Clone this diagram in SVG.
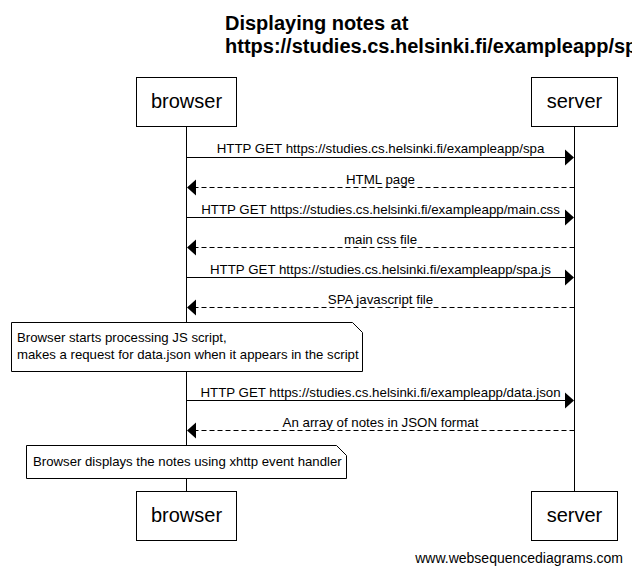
<svg xmlns="http://www.w3.org/2000/svg" width="632" height="574" viewBox="0 0 632 574">
<style>
text{font-family:"Liberation Sans",Arial,sans-serif;fill:#000}
.title{font-size:20px;font-weight:bold}
.actor{font-size:20px;text-anchor:middle}
.msg{font-size:13.3px;text-anchor:middle}
.note{font-size:13.2px}
.foot{font-size:14px;text-anchor:end}
.box{fill:#fff;stroke:#000;stroke-width:1}
.life{stroke:#000;stroke-width:1;fill:none}
.line{stroke:#000;stroke-width:1;fill:none}
.dash{stroke:#000;stroke-width:1;fill:none;stroke-dasharray:5,3}
.head{fill:#000;stroke:none}
</style>
<rect width="632" height="574" fill="#fff"/>
<g id="title">
<text class="title" x="225" y="30">Displaying notes at</text>
<text class="title" x="225" y="53">https://studies.cs.helsinki.fi/exampleapp/spa</text>
</g>
<g id="lifelines">
<line class="life" x1="186.5" y1="126" x2="186.5" y2="491"/>
<line class="life" x1="574.5" y1="126" x2="574.5" y2="491"/>
</g>
<g id="browser">
<rect class="box" x="136.5" y="77.5" width="100" height="49"/>
<text class="actor" x="186.5" y="108">browser</text>
</g>
<g id="server">
<rect class="box" x="531.5" y="77.5" width="86" height="49"/>
<text class="actor" x="574.5" y="108">server</text>
</g>
<g id="browser-bottom">
<rect class="box" x="136.5" y="491.5" width="100" height="49"/>
<text class="actor" x="186.5" y="522">browser</text>
</g>
<g id="server-bottom">
<rect class="box" x="531.5" y="491.5" width="86" height="49"/>
<text class="actor" x="574.5" y="522">server</text>
</g>
<g id="connectors">
<line class="line" x1="186.5" y1="157.5" x2="566" y2="157.5"/>
<polygon class="head" points="574,157.5 565,149.5 565,165.5"/>
<text class="msg" x="380.5" y="153">HTTP GET https://studies.cs.helsinki.fi/exampleapp/spa</text>

<line class="dash" x1="574.5" y1="187.5" x2="195" y2="187.5"/>
<polygon class="head" points="187,187.5 196,179.5 196,195.5"/>
<text class="msg" x="380.5" y="183.5">HTML page</text>

<line class="line" x1="186.5" y1="217.5" x2="566" y2="217.5"/>
<polygon class="head" points="574,217.5 565,209.5 565,225.5"/>
<text class="msg" x="380.5" y="213.5">HTTP GET https://studies.cs.helsinki.fi/exampleapp/main.css</text>

<line class="dash" x1="574.5" y1="247.5" x2="195" y2="247.5"/>
<polygon class="head" points="187,247.5 196,239.5 196,255.5"/>
<text class="msg" x="380.5" y="243.5">main css file</text>

<line class="line" x1="186.5" y1="277.5" x2="566" y2="277.5"/>
<polygon class="head" points="574,277.5 565,269.5 565,285.5"/>
<text class="msg" x="380.5" y="273.5">HTTP GET https://studies.cs.helsinki.fi/exampleapp/spa.js</text>

<line class="dash" x1="574.5" y1="307.5" x2="195" y2="307.5"/>
<polygon class="head" points="187,307.5 196,299.5 196,315.5"/>
<text class="msg" x="380.5" y="303.5">SPA javascript file</text>

<line class="line" x1="186.5" y1="400.5" x2="566" y2="400.5"/>
<polygon class="head" points="574,400.5 565,392.5 565,408.5"/>
<text class="msg" x="380.5" y="396.5">HTTP GET https://studies.cs.helsinki.fi/exampleapp/data.json</text>

<line class="dash" x1="574.5" y1="430.5" x2="195" y2="430.5"/>
<polygon class="head" points="187,430.5 196,422.5 196,438.5"/>
<text class="msg" x="380.5" y="426.5">An array of notes in JSON format</text>
</g>
<g id="note1">
<path class="box" d="M11.5,322.5 H352.5 L362.5,332.5 V371.5 H11.5 Z"/>
<text class="note" x="17" y="341.5">Browser starts processing JS script,</text>
<text class="note" x="17" y="358.5">makes a request for data.json when it appears in the script</text>
</g>
<g id="note2">
<path class="box" d="M26.5,445.5 H336.5 L346.5,455.5 V478.5 H26.5 Z"/>
<text class="note" x="33" y="466">Browser displays the notes using xhttp event handler</text>
</g>
<g id="footer">
<text class="foot" x="623" y="563">www.websequencediagrams.com</text>
</g>
</svg>
